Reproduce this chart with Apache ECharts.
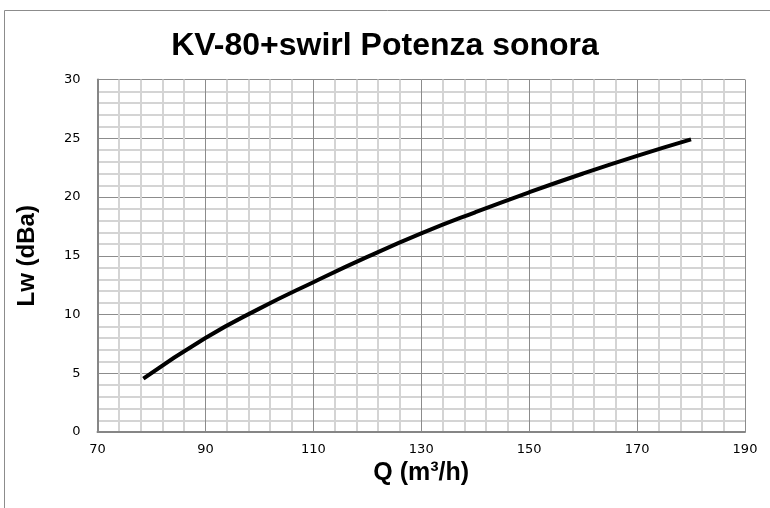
<!DOCTYPE html>
<html><head><meta charset="utf-8">
<script src="https://cdn.jsdelivr.net/npm/echarts@6/dist/echarts.min.js"></script>
<style>html,body{margin:0;padding:0;background:#fff}#c{width:770px;height:508px}</style>
</head><body><div id="c"></div>
<script>
const titleText = 'KV-80+swirl Potenza sonora';
const xName = 'Q (m³/h)';
const yName = 'Lw (dBa)';
const flowQ = [78.5, 90, 100, 110, 120, 130, 140, 150, 160, 170, 180];
const soundLw = [4.55, 8.0, 10.5, 12.75, 14.9, 16.9, 18.7, 20.4, 22.0, 23.5, 24.9];
const xMin = 70, xMax = 190, xStep = 20;
const yMin = 0, yMax = 30, yStep = 5;

const chart = echarts.init(document.getElementById('c'), null, {renderer: 'canvas'});
const font = 'Liberation Sans, Arial, sans-serif';
const tickFont = 'DejaVu Sans, Verdana, sans-serif';
chart.setOption({
  animation: false,
  backgroundColor: '#fff',
  graphic: [{
    type: 'rect', silent: true, z: 0,
    shape: {x: 4.5, y: 10.5, width: 900, height: 700},
    style: {fill: 'none', stroke: '#8c8c8c', lineWidth: 1}
  }],
  title: {
    text: titleText, left: 'center', top: 25,
    textStyle: {fontFamily: font, fontWeight: 'bold', fontSize: 32, color: '#000'}
  },
  grid: {left: 97.5, right: 25, top: 79.5, bottom: 76},
  xAxis: {
    type: 'value', min: xMin, max: xMax, interval: xStep,
    name: xName, nameLocation: 'middle', nameGap: 14,
    nameTextStyle: {fontFamily: font, fontWeight: 'bold', fontSize: 25, color: '#000', verticalAlign: 'top'},
    axisLine: {show: true, lineStyle: {color: '#868686', width: 2}},
    axisTick: {show: false},
    axisLabel: {margin: 11, fontFamily: tickFont, fontSize: 13, color: '#000'},
    splitLine: {show: true, lineStyle: {color: '#8c8c8c', width: 1}},
    minorTick: {show: false, splitNumber: 5},
    minorSplitLine: {show: true, lineStyle: {color: '#d4d4d4', width: 2}}
  },
  yAxis: {
    type: 'value', min: yMin, max: yMax, interval: yStep,
    name: yName, nameLocation: 'middle', nameGap: 58, nameRotate: 90,
    nameTextStyle: {fontFamily: font, fontWeight: 'bold', fontSize: 24, color: '#000'},
    axisLine: {show: true, lineStyle: {color: '#868686', width: 2}},
    axisTick: {show: false},
    axisLabel: {margin: 17, fontFamily: tickFont, fontSize: 13, color: '#000'},
    splitLine: {show: true, lineStyle: {color: '#8c8c8c', width: 1}},
    minorTick: {show: false, splitNumber: 5},
    minorSplitLine: {show: true, lineStyle: {color: '#d4d4d4', width: 2}}
  },
  series: [{
    type: 'line',
    data: flowQ.map((q, i) => [q, soundLw[i]]),
    smooth: true,
    showSymbol: false,
    lineStyle: {color: '#000', width: 4},
    z: 5
  }]
});
</script></body></html>
